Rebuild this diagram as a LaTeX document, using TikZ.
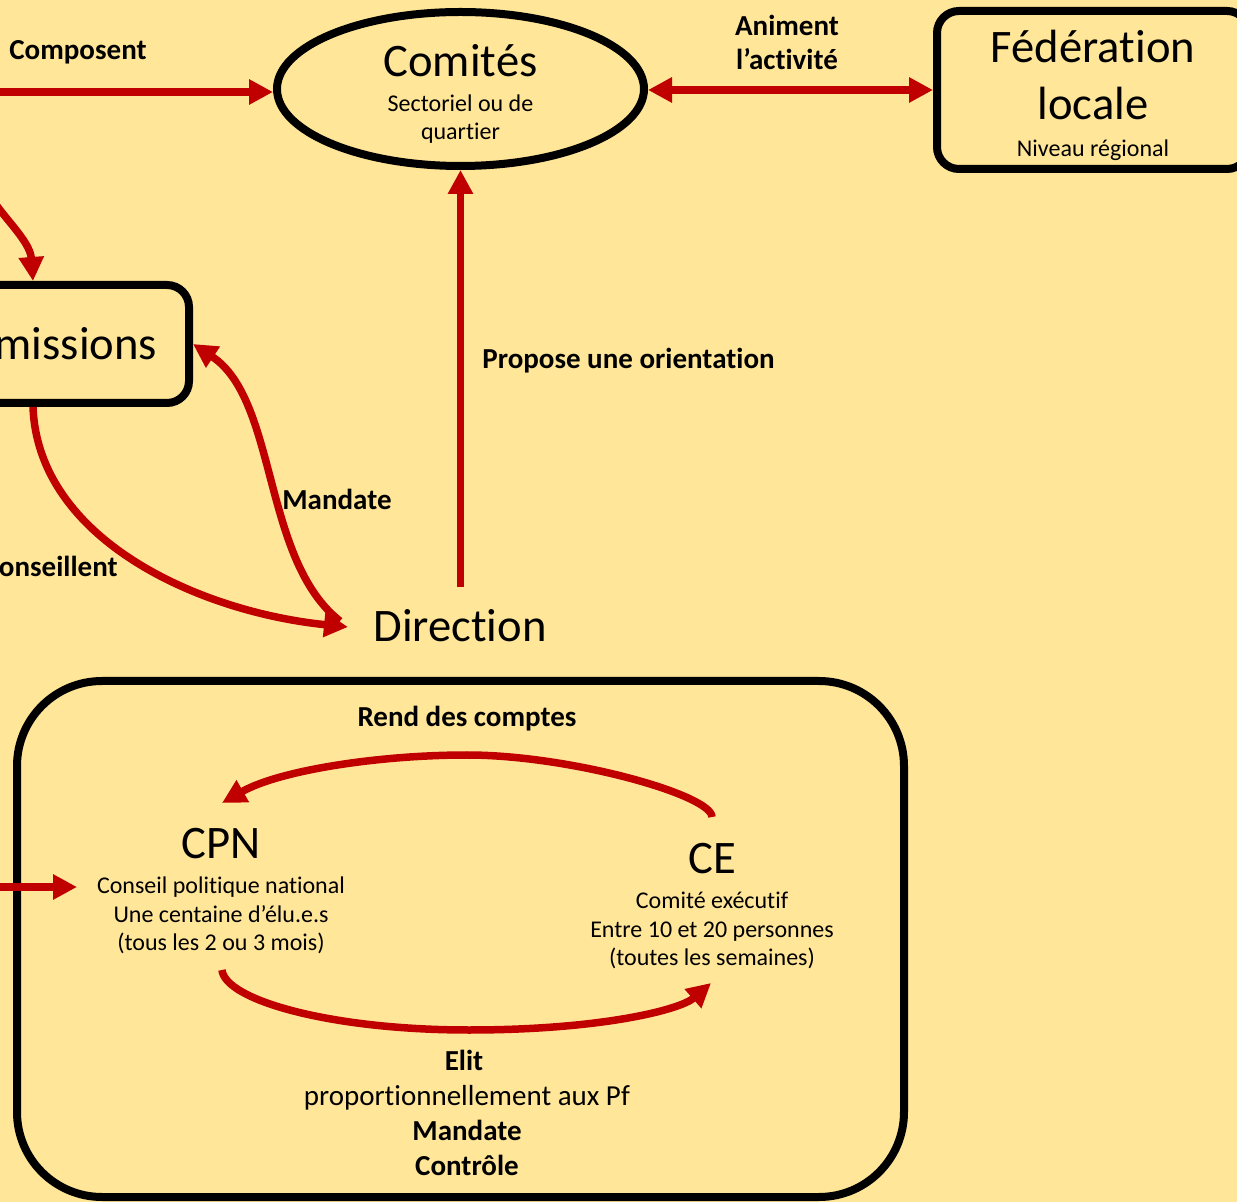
\documentclass[tikz,border=0pt]{standalone}
\usepackage{fontspec}
\setmainfont{Carlito}[Ligatures={NoCommon,NoContextual,NoRare},Contextuals=NoAlternate]
\usetikzlibrary{arrows.meta,shapes.geometric}
\definecolor{bg}{HTML}{FFE699}
\definecolor{rd}{HTML}{C00000}
\newcommand{\zk}{\kern0pt{}}
\begin{document}
\begin{tikzpicture}[x=0.5pt,y=-0.5pt,
  arr/.style={draw=rd, line width=3.75pt, -{Triangle[length=12pt,width=12pt]}},
  arrtwo/.style={draw=rd, line width=3.75pt, {Triangle[length=12pt,width=12pt]}-{Triangle[length=12pt,width=12pt]}},
  big/.style={font=\fontsize{23.3}{28}\selectfont, inner sep=0pt},
  small/.style={font=\fontsize{12}{14}\selectfont, inner sep=0pt},
  lbl/.style={font=\fontsize{14.5}{17.5}\selectfont\bfseries, inner sep=0pt},
  reg/.style={font=\fontsize{14.5}{17.5}\selectfont, inner sep=0pt},
  boxshape/.style={draw=black, line width=4pt, rectangle, rounded corners=11pt, inner sep=0pt},
]
\useasboundingbox (0,0) rectangle (1237,1202);
\clip (0,0) rectangle (1237,1202);
\fill[bg] (0,0) rectangle (1237,1202);

% ---- shapes
\node[ellipse, draw=black, line width=4pt, minimum width=183.5pt, minimum height=77pt, inner sep=0pt] (comites) at (460.5,89) {};
\node[boxshape, minimum width=156pt, minimum height=79pt] (fed) at (1093,90) {};
\node[boxshape, minimum width=156pt, minimum height=59pt] (commissions) at (33,344) {};
\node[draw=black, line width=4pt, rectangle, rounded corners=42.5pt, minimum width=443.5pt, minimum height=258pt, inner sep=0pt] (cbox) at (460.5,939) {};

% ---- texts
\node[big, anchor=base] (tcomites) at (460.5,77) {Comités};
\node[small, anchor=base] (tsect) at (460.5,112) {Sectoriel ou de};
\node[small, anchor=base] (tquart) at (460.5,140) {quart\zk ier};

\node[big, anchor=base] (tfed) at (1093,63) {Fédérat\zk ion};
\node[big, anchor=base] (tloc) at (1093,120) {locale};
\node[small, anchor=base] (tniv) at (1093,157) {Niveau régional};

\node[big, anchor=base east] (tcomm) at (157.5,360) {missions};
\node[big, anchor=base] (direction) at (460,642) {Direct\zk ion};

\node[big, anchor=base] (cpn) at (221,858) {CPN};
\node[small, anchor=base] (cpna) at (221,893) {Conseil polit\zk ique nat\zk ional};
\node[small, anchor=base] (cpnb) at (221,922) {Une centaine d’élu.e.s};
\node[small, anchor=base] (cpnc) at (221,950) {(tous les 2 ou 3 mois)};

\node[big, anchor=base] (ce) at (712,873) {CE};
\node[small, anchor=base] (cea) at (712,908) {Comité exécut\zk if};
\node[small, anchor=base] (ceb) at (712,937) {Entre 10 et 20 personnes};
\node[small, anchor=base] (cec) at (712,965) {(toutes les semaines)};

% ---- labels
\node[lbl, anchor=base] (lcomp) at (78,60) {Composent};
\node[lbl, anchor=base] (lanim) at (787,36) {Animent};
\node[lbl, anchor=base] (lact) at (787,70) {l’act\zk ivité};
\node[lbl, anchor=base west] (lprop) at (482,369) {Propose une orientat\zk ion};
\node[lbl, anchor=base west] (lmand) at (282,510) {Mandate};
\node[lbl, anchor=base east] (lcons) at (118,577) {onseillent};
\node[lbl, anchor=base] (lrend) at (467,727) {Rend des comptes};
\node[lbl, anchor=base] (lelit) at (464,1070) {Elit};
\node[reg, anchor=base] (lprop2) at (467,1105) {proport\zk ionnellement aux Pf};
\node[lbl, anchor=base] (lmand2) at (467,1140) {Mandate};
\node[lbl, anchor=base] (lctrl) at (467,1175) {Contrôle};

% ---- coordinates
\coordinate (inA) at (-5,92);
\coordinate (inB) at (-12,192);
\coordinate (inC) at (-5,887);
\coordinate (cpnIn) at (77,887);
\coordinate (dirA) at (348,627);
\coordinate (dirB) at (340,621);
\coordinate (dirN) at (460.5,587);
\coordinate (ceTop) at (712,817);
\coordinate (cpnTop) at (222,803);
\coordinate (cpnBot) at (222,970);
\coordinate (ceBot) at (711,983);
\coordinate (peakA) at (467,755);
\coordinate (lowA) at (469,1030);

% ---- connectors
\draw[arr] (inA) -- (inA -| comites.west);
\draw[arrtwo] (comites.east |- fed.west) -- (fed.west);
\draw[arr] (inB) .. controls (0,215) and (30,240) .. (commissions.north);
\draw[arr] (commissions.south) .. controls (38,540) and (200,612) .. (dirA);
\draw[arr] (dirB) .. controls (262,560) and (278,400) .. (commissions.east);
\draw[arr] (dirN) -- (dirN |- comites.south);
\draw[arr] (ceTop) .. controls (712,795) and (570,755) .. (peakA) .. controls (380,755) and (280,770) .. (cpnTop);
\draw[arr] (cpnBot) .. controls (225,1000) and (330,1030) .. (lowA) .. controls (600,1030) and (680,1010) .. (ceBot);
\draw[arr] (inC) -- (cpnIn);
\end{tikzpicture}
\end{document}
